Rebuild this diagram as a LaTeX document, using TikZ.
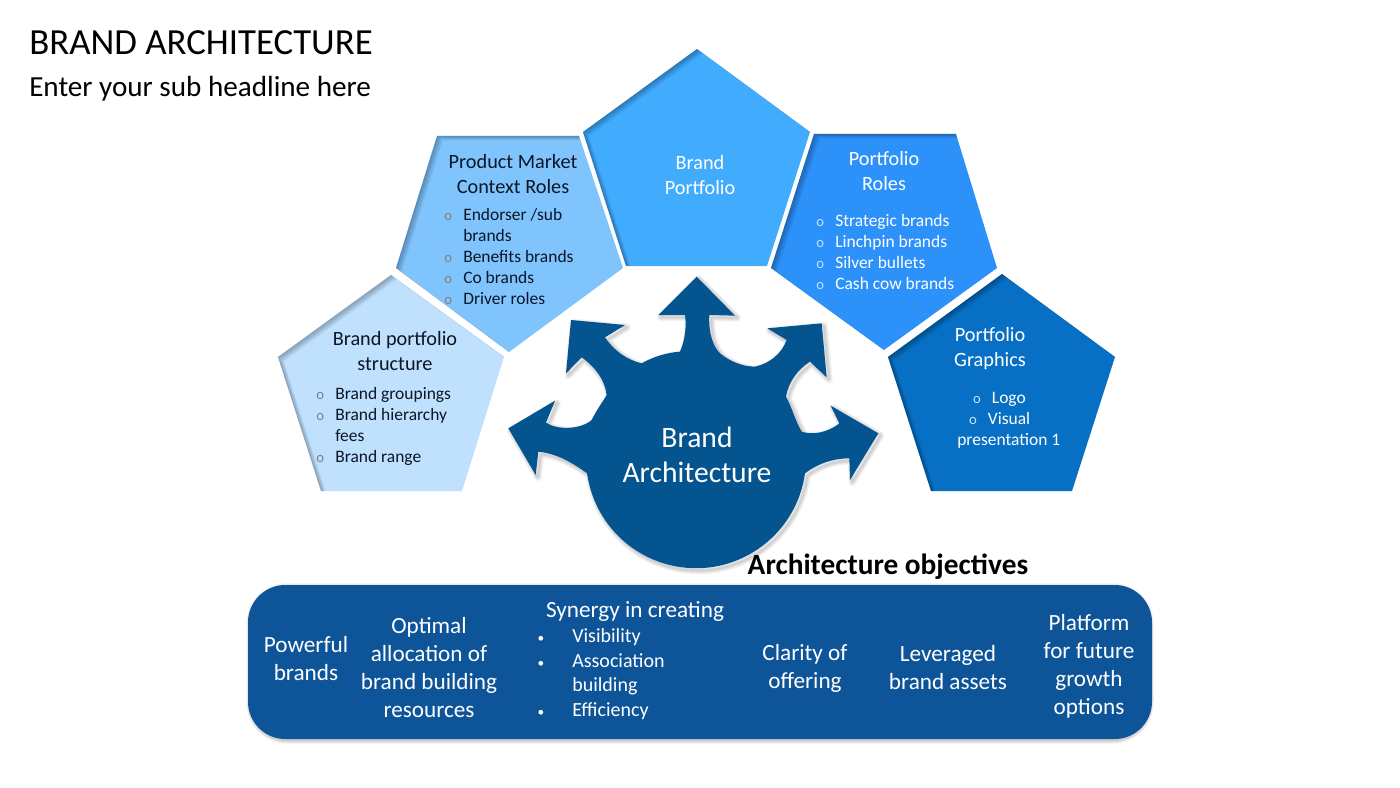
\documentclass[tikz,border=0pt]{standalone}
\usepackage{fontspec}
\setmainfont{Carlito}
\definecolor{cA}{HTML}{BFE1FE}
\definecolor{cB}{HTML}{80C4FD}
\definecolor{cC}{HTML}{41ABFE}
\definecolor{cD}{HTML}{2D91FA}
\definecolor{cE}{HTML}{0870C4}
\definecolor{cBlob}{HTML}{04548F}
\definecolor{cBar}{HTML}{0E5499}
\definecolor{ink}{HTML}{0B1626}
\newcommand{\pent}[2]{%
  \begin{scope}
    \fill[#2] #1 -- cycle;
    \clip #1 -- cycle;
    \foreach \k in {1,...,7}
      \fill[black,opacity=.045,even odd rule,shift={(\k*.85,\k*.62)}] (-100,-100) rectangle (1500,900) #1 -- cycle;
  \end{scope}}
\newcommand{\bul}[1][gray]{\leavevmode\llap{{\fontsize{11}{11}\selectfont\color{#1}o}\hspace{8.3pt}}}
\newcommand{\dotb}{\leavevmode\llap{{\fontsize{10}{10}\selectfont •}\hspace{21pt}}}
\def\blobpath{(620,50) -- (735,167) -- (658,165)
 .. controls (655,220) and (670,260) .. (690,280)
 .. controls (720,305) and (760,320) .. (795,320)
 .. controls (840,310) and (875,280) .. (890,240)
 -- (832,205) -- (995,190) -- (1010,352) -- (960,305)
 .. controls (920,330) and (895,370) .. (888,410)
 .. controls (905,440) and (915,480) .. (935,515)
 .. controls (965,525) and (1010,520) .. (1048,490)
 -- (1022,437) -- (1165,520) -- (1080,660) -- (1078,595)
 .. controls (1030,595) and (985,610) .. (945,640)
 arc[start angle=7.9,end angle=172.1,radius=330]
 .. controls (250,610) and (200,580) .. (145,575)
 -- (137,645) -- (55,505) -- (195,422) -- (168,488)
 .. controls (200,510) and (270,510) .. (305,480)
 .. controls (320,450) and (335,430) .. (350,405)
 .. controls (345,360) and (315,320) .. (275,292)
 -- (228,340) -- (243,180) -- (405,195) -- (345,232)
 .. controls (370,270) and (410,300) .. (455,310)
 .. controls (490,290) and (530,278) .. (570,275)
 .. controls (585,240) and (590,200) .. (585,165)
 -- (505,165) -- cycle}
\tikzset{
  head/.style={inner sep=0pt,align=center,font=\fontsize{15.2}{18.75}\selectfont},
  items/.style={inner sep=0pt,align=left,anchor=west,font=\fontsize{13.1}{15.75}\selectfont},
  bartext/.style={inner sep=0pt,align=center,text=white,font=\fontsize{17.4}{21}\selectfont},
  subtext/.style={inner sep=0pt,align=left,anchor=west,text=white,font=\fontsize{15}{18.4}\selectfont}
}
\begin{document}
\begin{tikzpicture}[x=.75pt,y=-.75pt]
\useasboundingbox (0,0) rectangle (1400,788);
\fill[white] (0,0) rectangle (1400,788);
% pentagons
\pent{(391,275) -- (504,357) -- (462,491) -- (321,491) -- (278,357)}{cA}
\pent{(437,136) -- (579,136) -- (623,268) -- (509,352) -- (396,268)}{cB}
\pent{(697,49) -- (810,132) -- (767,266) -- (626,266) -- (583,132)}{cC}
\pent{(814,134) -- (956,134) -- (997,268) -- (884,350) -- (771,268)}{cD}
\pent{(1002,274) -- (1115,357) -- (1072,491) -- (931,491) -- (888,357)}{cE}
% centre shape
\begin{scope}[shift={(490,260)},x=.25pt,y=-.25pt]
  \foreach \k in {1,...,8}
    \draw[black,draw opacity=.022,shift={(7,7)},line width=\k*.75pt,line join=round] \blobpath;
  \fill[cBlob] \blobpath;
\end{scope}
% objective bar
\foreach \k in {1,...,8}
  \draw[black,draw opacity=.028,line width=\k*.75pt,rounded corners=28] (250,587) rectangle (1150,740);
\fill[cBar,rounded corners=28] (248,585) rectangle (1152,739);
% texts
\node[inner sep=0pt,anchor=west,font=\fontsize{27.6}{32}\selectfont,text=black] (title) at (29,43) {BRAND ARCHITECTURE};
\node[inner sep=0pt,anchor=west,font=\fontsize{21.85}{25}\selectfont,text=black] (subtitle) at (29,89) {Enter your sub headline here};
\node[head,text=ink] (h1) at (395,351) {Brand portfolio\\structure};
\node[items,text=ink] (l1) at (335,426.5) {\bul Brand groupings\\\bul Brand hierarchy\\fees\\\bul Brand range};
\node[head,text=ink] (h2) at (513,174.5) {Product Market\\Context Roles};
\node[items,text=ink] (l2) at (463,256.5) {\bul Endorser /sub\\brands\\\bul Benefits brands\\\bul Co brands\\\bul Driver roles};
\node[head,text=white] (h3) at (700,175) {Brand\\Portfolio};
\node[head,text=white] (h4) at (884,171) {Portfolio\\Roles};
\node[items,text=white] (l4) at (835,252) {\bul[cA]Strategic brands\\\bul[cA]Linchpin brands\\\bul[cA]Silver bullets\\\bul[cA]Cash cow brands};
\node[head,text=white] (h5) at (990,349) {Portfolio\\Graphics};
\node[items,text=white] (l5) at (957,420) {\hspace{26pt}\bul[cA]Logo\\\hspace{23pt}\bul[cA]Visual\\presentation 1};
\node[inner sep=0pt,align=center,text=white,font=\fontsize{22.2}{26.25}\selectfont] (core) at (697,455) {Brand\\Architecture};
\node[inner sep=0pt,text=black,font=\fontsize{22}{26}\selectfont\bfseries] (obj) at (888,567) {Architecture objectives};
\node[bartext] (t1) at (306,659) {Powerful\\brands};
\node[bartext] (t2) at (429,667.5) {Optimal\\allocation of\\brand building\\resources};
\node[bartext] (t3) at (635,611) {Synergy in creating};
\node[subtext] (t3l) at (572,674) {\dotb Visibility\\\dotb Association\\building\\\dotb Efficiency};
\node[bartext] (t4) at (805,668.5) {Clarity of\\offering};
\node[bartext] (t5) at (948,667.5) {Leveraged\\brand assets};
\node[bartext] (t6) at (1089,666) {Platform\\for future\\growth\\options};
\end{tikzpicture}
\end{document}
